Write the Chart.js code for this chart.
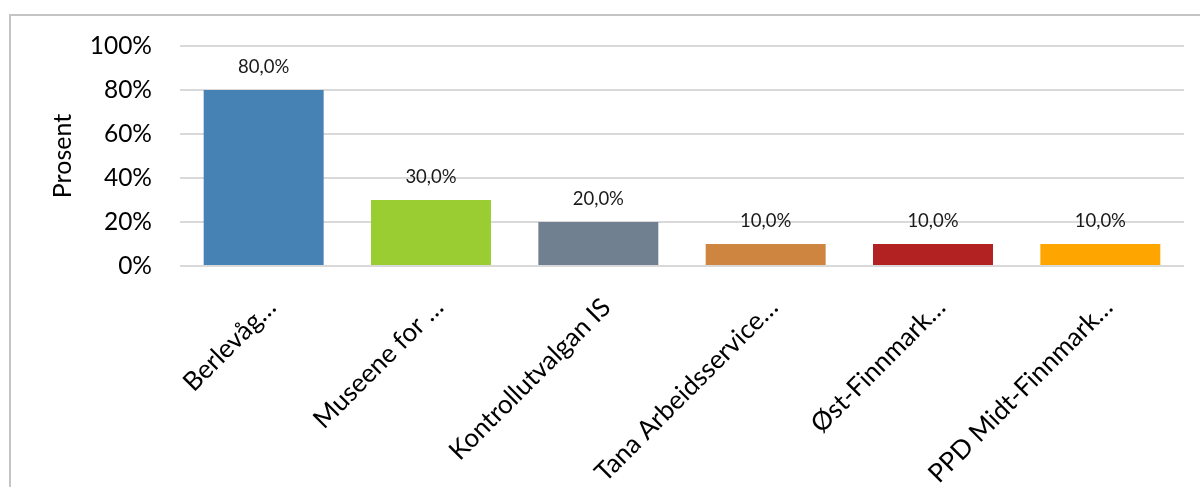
<!DOCTYPE html>
<html>
<head>
<meta charset="utf-8">
<script src="https://cdn.jsdelivr.net/npm/chart.js@4"></script>
<style>
  html, body { margin: 0; padding: 0; background: #fff; }
  #wrap { position: relative; width: 1200px; height: 487px; overflow: hidden; }
  #frame { position: absolute; left: 9px; top: 14px; width: 1300px; height: 600px; border: 2px solid #c4c4c4; box-sizing: border-box; }
  canvas { position: absolute; left: 0; top: 0; }
</style>
</head>
<body>
<div id="wrap">
  <div id="frame"></div>
  <canvas id="c" width="1200" height="487"></canvas>
</div>
<script>
const categories = ["Berlevåg…", "Museene for …", "Kontrollutvalgan IS", "Tana Arbeidsservice…", "Øst-Finnmark…", "PPD Midt-Finnmark…"];
const values = [80, 30, 20, 10, 10, 10];
const barColors = ["#4682B4", "#9ACD32", "#708090", "#CD853F", "#B22222", "#FFA500"];
const yTicks = [0, 20, 40, 60, 80, 100];
const yTitle = "Prosent";

const valueLabels = {
  id: 'valueLabels',
  afterDatasetsDraw(chart) {
    const ctx = chart.ctx;
    const meta = chart.getDatasetMeta(0);
    ctx.save();
    ctx.font = '18.5px Lato';
    ctx.fillStyle = '#1a1a1a';
    ctx.textAlign = 'center';
    ctx.textBaseline = 'middle';
    meta.data.forEach((bar, i) => {
      ctx.fillText(values[i].toFixed(1).replace('.', ',') + '%', bar.x, bar.y - 23);
    });
    ctx.restore();
  }
};

new Chart(document.getElementById('c'), {
  type: 'bar',
  data: {
    labels: categories,
    datasets: [{
      data: values,
      backgroundColor: barColors,
      borderWidth: 0,
      categoryPercentage: 1,
      barPercentage: 0.717
    }]
  },
  options: {
    responsive: false,
    animation: false,
    devicePixelRatio: 1,
    layout: { padding: { left: 48, right: 16, top: 46, bottom: 0 } },
    plugins: { legend: { display: false }, tooltip: { enabled: false } },
    scales: {
      x: {
        grid: { display: false },
        border: { display: false },
        ticks: {
          color: '#000',
          font: { family: 'Lato', size: 26 },
          minRotation: 45,
          maxRotation: 45,
          autoSkip: false,
          padding: 18,
          labelOffset: 8
        },
        afterFit(scale) { scale.height = 221; }
      },
      y: {
        min: 0,
        max: 100,
        afterBuildTicks(scale) { scale.ticks = yTicks.map(v => ({ value: v })); },
        grid: { color: '#d9d9d9', lineWidth: 2, drawTicks: false },
        border: { display: false },
        ticks: {
          color: '#000',
          font: { family: 'Lato', size: 24.5 },
          padding: 28,
          callback: v => v + '%'
        },
        title: {
          display: true,
          text: yTitle,
          color: '#000',
          font: { family: 'Lato', size: 25 },
          padding: { top: 0, bottom: 0 }
        },
        afterFit(scale) { scale.width = 132; }
      }
    }
  },
  plugins: [valueLabels]
});
</script>
</body>
</html>
